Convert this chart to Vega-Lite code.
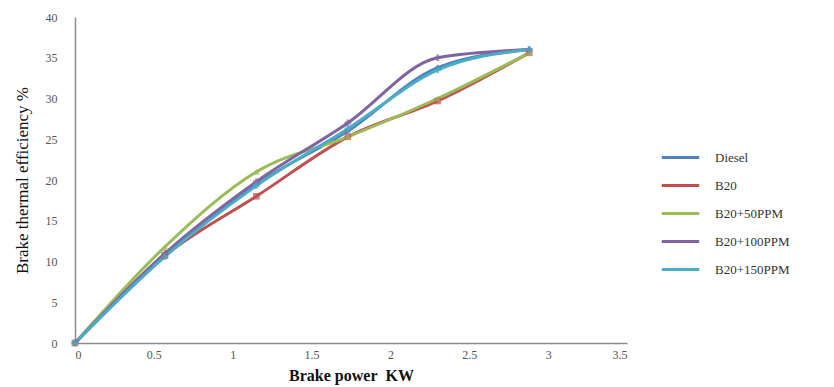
{
  "$schema": "https://vega.github.io/schema/vega-lite/v6.json",
  "autosize": "none",
  "width": 552,
  "height": 326,
  "padding": {"left": 75, "top": 17, "right": 207, "bottom": 44},
  "background": "white",
  "config": {
    "view": {"stroke": null},
    "font": "Liberation Serif",
    "axis": {"grid": false, "domainColor": "#8c8c8c", "domainWidth": 1.5, "ticks": false, "labelColor": "#555555", "labelFont": "Liberation Serif", "labelFontSize": 12, "titleFont": "Liberation Serif", "titleColor": "#111111"}
  },
  "data": {
    "values": [
      {"power": 0, "bte": 0, "fuel": "Diesel"},
      {"power": 0.57, "bte": 10.8, "fuel": "Diesel"},
      {"power": 1.15, "bte": 19.5, "fuel": "Diesel"},
      {"power": 1.73, "bte": 26, "fuel": "Diesel"},
      {"power": 2.3, "bte": 33.8, "fuel": "Diesel"},
      {"power": 2.88, "bte": 36, "fuel": "Diesel"},
      {"power": 0, "bte": 0, "fuel": "B20"},
      {"power": 0.57, "bte": 10.7, "fuel": "B20"},
      {"power": 1.15, "bte": 18, "fuel": "B20"},
      {"power": 1.73, "bte": 25.3, "fuel": "B20"},
      {"power": 2.3, "bte": 29.7, "fuel": "B20"},
      {"power": 2.88, "bte": 35.6, "fuel": "B20"},
      {"power": 0, "bte": 0, "fuel": "B20+50PPM"},
      {"power": 0.57, "bte": 11.8, "fuel": "B20+50PPM"},
      {"power": 1.15, "bte": 21, "fuel": "B20+50PPM"},
      {"power": 1.73, "bte": 25.3, "fuel": "B20+50PPM"},
      {"power": 2.3, "bte": 30, "fuel": "B20+50PPM"},
      {"power": 2.88, "bte": 35.6, "fuel": "B20+50PPM"},
      {"power": 0, "bte": 0, "fuel": "B20+100PPM"},
      {"power": 0.57, "bte": 11, "fuel": "B20+100PPM"},
      {"power": 1.15, "bte": 19.8, "fuel": "B20+100PPM"},
      {"power": 1.73, "bte": 27, "fuel": "B20+100PPM"},
      {"power": 2.3, "bte": 35, "fuel": "B20+100PPM"},
      {"power": 2.88, "bte": 36, "fuel": "B20+100PPM"},
      {"power": 0, "bte": 0, "fuel": "B20+150PPM"},
      {"power": 0.57, "bte": 10.6, "fuel": "B20+150PPM"},
      {"power": 1.15, "bte": 19.3, "fuel": "B20+150PPM"},
      {"power": 1.73, "bte": 26.3, "fuel": "B20+150PPM"},
      {"power": 2.3, "bte": 33.5, "fuel": "B20+150PPM"},
      {"power": 2.88, "bte": 36, "fuel": "B20+150PPM"}
    ]
  },
  "encoding": {
    "x": {"field": "power", "type": "quantitative", "scale": {"domain": [0, 3.5], "nice": false},
      "axis": {"values": [0, 0.5, 1, 1.5, 2, 2.5, 3, 3.5], "labelExpr": "datum.value", "title": "Brake power\u00a0\u00a0KW", "titleFontSize": 16, "titleFontWeight": "bold", "titlePadding": 7, "labelPadding": 6}},
    "y": {"field": "bte", "type": "quantitative", "scale": {"domain": [0, 40], "nice": false},
      "axis": {"values": [0, 5, 10, 15, 20, 25, 30, 35, 40], "title": "Brake thermal efficiency %", "titleFontSize": 17, "titleFontWeight": "normal", "titlePadding": 14, "labelPadding": 18}}
  },
  "layer": [
    {"mark": {"type": "line", "interpolate": "monotone", "strokeWidth": 3},
      "encoding": {"color": {"field": "fuel", "type": "nominal",
        "scale": {"domain": ["Diesel", "B20", "B20+50PPM", "B20+100PPM", "B20+150PPM"], "range": ["#4F81BD", "#C0504D", "#9BBB59", "#8064A2", "#4BACC6"]},
        "legend": {"title": null, "orient": "none", "legendX": 585, "legendY": 120, "labelFont": "Liberation Serif", "labelFontSize": 13, "labelColor": "#333333", "symbolType": "stroke", "symbolStrokeWidth": 3, "symbolSize": 1400, "rowPadding": -15.5, "labelOffset": 14}}}},
    {"mark": {"type": "point", "filled": true, "size": 45},
      "encoding": {
        "color": {"field": "fuel", "type": "nominal",
          "scale": {"domain": ["Diesel", "B20", "B20+50PPM", "B20+100PPM", "B20+150PPM"], "range": ["#4F81BD", "#C0504D", "#9BBB59", "#8064A2", "#4BACC6"]}, "legend": null},
        "shape": {"field": "fuel", "type": "nominal",
          "scale": {"domain": ["Diesel", "B20", "B20+50PPM", "B20+100PPM", "B20+150PPM"], "range": ["diamond", "square", "triangle-up", "cross", "cross"]}, "legend": null}}}
  ],
  "resolve": {"scale": {"color": "independent"}, "legend": {"color": "independent"}}
}
